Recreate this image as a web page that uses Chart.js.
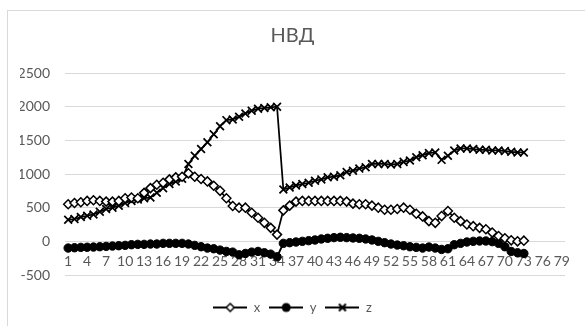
<!DOCTYPE html>
<html>
<head>
<meta charset="utf-8">
<script src="https://cdn.jsdelivr.net/npm/chart.js@4/dist/chart.umd.min.js"></script>
<style>
  html, body { margin: 0; padding: 0; background: #fff; }
  #wrap { position: relative; width: 585px; height: 326px; overflow: hidden; }
  #frame { position: absolute; left: 7px; top: 10px; width: 700px; height: 400px; border: 1px solid #d9d9d9; box-sizing: border-box; }
  #c { position: absolute; left: 0; top: 0; }
</style>
</head>
<body>
<div id="wrap">
  <div id="frame"></div>
  <canvas id="c" width="596" height="326"></canvas>
</div>
<script>
const title = 'НВД';
const categories = [];
for (let i = 1; i <= 79; i++) categories.push(String(i));

const xValues = [550, 570, 580, 600, 610, 600, 590, 590, 600, 640,
  650, 640, 720, 790, 840, 870, 920, 950, 960, 1010,
  960, 925, 890, 825, 750, 640, 525, 500, 500, 425,
  350, 275, 200, 100, 460, 530, 590, 600, 600, 600,
  600, 600, 600, 600, 590, 560, 550, 550, 530, 500,
  470, 470, 480, 500, 470, 410, 370, 300, 275, 375,
  450, 350, 300, 250, 225, 200, 180, 130, 80, 45,
  15, 0, 10];

const yValues = [-100, -95, -90, -88, -85, -80, -75, -70, -65, -60,
  -50, -45, -45, -40, -40, -30, -30, -30, -30, -40,
  -60, -80, -100, -110, -130, -150, -160, -200, -180, -160,
  -150, -170, -190, -230, -30, -20, -10, 0, 10, 20,
  35, 45, 55, 60, 55, 50, 45, 35, 20, 0,
  -20, -40, -55, -65, -80, -90, -100, -85, -100, -120,
  -110, -50, -30, -10, 0, 5, 5, -5, -30, -80,
  -150, -170, -180];

const zValues = [320, 330, 360, 380, 400, 440, 480, 500, 530, 570,
  600, 620, 640, 650, 720, 790, 850, 890, 930, 1150,
  1270, 1370, 1470, 1590, 1710, 1800, 1810, 1850, 1900, 1940,
  1970, 1980, 1990, 2000, 770, 800, 830, 850, 870, 900,
  920, 950, 960, 980, 1030, 1050, 1080, 1100, 1150, 1150,
  1150, 1140, 1150, 1180, 1200, 1250, 1280, 1310, 1320, 1210,
  1270, 1350, 1380, 1380, 1370, 1360, 1360, 1350, 1350, 1340,
  1330, 1320, 1320];

const seriesNames = ['x', 'y', 'z'];
const yTicks = [-500, 0, 500, 1000, 1500, 2000, 2500];

const gray = '#595959';
const font = 'Lato, "Liberation Sans", sans-serif';

// small legend icons: line with the marker in the middle
function legendIcon(kind) {
  const cv = document.createElement('canvas');
  cv.width = 34; cv.height = 14;
  const g = cv.getContext('2d');
  g.strokeStyle = '#000';
  g.lineWidth = 2;
  g.beginPath(); g.moveTo(0, 7); g.lineTo(34, 7); g.stroke();
  g.lineWidth = 1.5;
  if (kind === 'x') {
    g.fillStyle = '#fff';
    g.beginPath(); g.moveTo(17, 3); g.lineTo(21, 7); g.lineTo(17, 11); g.lineTo(13, 7); g.closePath();
    g.fill(); g.stroke();
  } else if (kind === 'y') {
    g.fillStyle = '#000';
    g.beginPath(); g.arc(17, 7, 4.5, 0, Math.PI * 2); g.fill();
  } else {
    g.lineWidth = 2;
    g.beginPath();
    g.moveTo(13.5, 3.5); g.lineTo(20.5, 10.5);
    g.moveTo(20.5, 3.5); g.lineTo(13.5, 10.5);
    g.stroke();
  }
  return cv;
}
const icons = seriesNames.map(legendIcon);

const ctx = document.getElementById('c').getContext('2d');
new Chart(ctx, {
  type: 'line',
  data: {
    labels: categories,
    datasets: [
      {
        label: seriesNames[0],
        data: xValues,
        borderColor: '#000',
        borderWidth: 1.75,
        pointStyle: 'rectRot',
        pointRadius: 4.5,
        pointBackgroundColor: '#fff',
        pointBorderColor: '#000',
        pointBorderWidth: 1.5
      },
      {
        label: seriesNames[1],
        data: yValues,
        borderColor: '#000',
        borderWidth: 2,
        pointStyle: 'circle',
        pointRadius: 4.2,
        pointBackgroundColor: '#000',
        pointBorderColor: '#000',
        pointBorderWidth: 1
      },
      {
        label: seriesNames[2],
        data: zValues,
        borderColor: '#000',
        borderWidth: 1.75,
        pointStyle: 'crossRot',
        pointRadius: 5.5,
        pointBorderColor: '#000',
        pointBorderWidth: 1.75
      }
    ]
  },
  options: {
    responsive: false,
    animation: false,
    layout: { padding: { left: 20, right: 31, top: 14, bottom: 2 } },
    plugins: {
      title: {
        display: true,
        text: title,
        color: gray,
        font: { family: font, size: 20, weight: 'normal' },
        padding: { top: 10, bottom: 25 }
      },
      legend: {
        position: 'bottom',
        title: { display: true, text: ' ', font: { size: 10 }, padding: { top: 5, bottom: 0 } },
        labels: {
          color: gray,
          font: { family: font, size: 13 },
          usePointStyle: true,
          pointStyleWidth: 34,
          padding: 9,
          generateLabels: chart => Chart.defaults.plugins.legend.labels.generateLabels(chart)
            .map((l, i) => Object.assign(l, { pointStyle: icons[i] }))
        }
      },
      tooltip: { enabled: false }
    },
    scales: {
      x: {
        position: { y: 0 },
        offset: true,
        grid: { display: false, drawTicks: false, offset: true },
        border: { display: false },
        ticks: {
          color: gray,
          font: { family: font, size: 14 },
          autoSkip: false,
          maxRotation: 0,
          padding: 12,
          callback: (v, i) => (i % 3 === 0 ? categories[i] : '')
        }
      },
      y: {
        min: -500,
        max: 2500,
        afterBuildTicks: s => { s.ticks = yTicks.map(v => ({ value: v })); },
        afterFit: s => { s.width = 45; },
        grid: { color: '#d9d9d9', lineWidth: 1, drawTicks: false },
        border: { display: false },
        ticks: {
          color: gray,
          font: { family: font, size: 14 },
          padding: 15,
          callback: v => String(v)
        }
      }
    }
  }
});
</script>
</body>
</html>
